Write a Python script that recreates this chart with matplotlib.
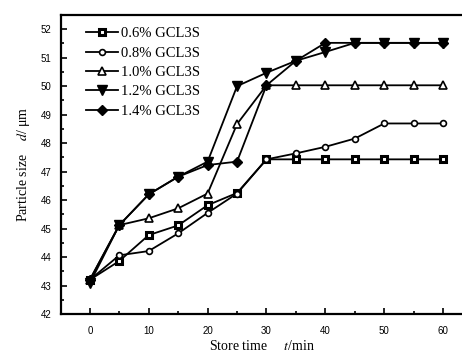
import matplotlib.pyplot as plt
from matplotlib.ticker import MultipleLocator

plt.rcParams['mathtext.fontset'] = 'stix'

times = [0, 5, 10, 15, 20, 25, 30, 35, 40, 45, 50, 55, 60]
labels = ["0.6% GCL3S", "0.8% GCL3S", "1.0% GCL3S", "1.2% GCL3S", "1.4% GCL3S"]
size_06 = [43.2, 43.86, 44.77, 45.11, 45.82, 46.25, 47.43, 47.43, 47.43, 47.43, 47.43, 47.43, 47.43]
size_08 = [43.2, 44.06, 44.21, 44.83, 45.55, 46.23, 47.43, 47.64, 47.87, 48.16, 48.69, 48.69, 48.69]
size_10 = [43.2, 45.12, 45.36, 45.71, 46.23, 48.67, 50.03, 50.03, 50.03, 50.03, 50.03, 50.03, 50.03]
size_12 = [43.08, 45.12, 46.2, 46.82, 47.35, 50.0, 50.47, 50.89, 51.2, 51.52, 51.52, 51.52, 51.52]
size_14 = [43.2, 45.12, 46.2, 46.82, 47.23, 47.35, 50.03, 50.89, 51.52, 51.52, 51.52, 51.52, 51.52]

series = [size_06, size_08, size_10, size_12, size_14]
styles = [
    dict(marker="s", ms=4.5, mfc="white", mew=2.2),
    dict(marker="o", ms=4.2, mfc="white", mew=1.2),
    dict(marker="^", ms=5.5, mfc="white", mew=1.2),
    dict(marker="v", ms=6.5, mfc="black", mew=1.0),
    dict(marker="D", ms=5.5, mfc="black", mew=1.0),
]

fig = plt.figure(figsize=(4.62, 3.56), dpi=100)
ax = fig.add_axes([0.132, 0.118, 0.868, 0.84])

for vals, lab, st in zip(series, labels, styles):
    ax.plot(times, vals, color="black", lw=1.3, mec="black", label=lab, **st)

ax.set_xlim(-4.9, 63.2)
ax.set_ylim(42, 52.5)
ax.xaxis.set_major_locator(MultipleLocator(10))
ax.xaxis.set_minor_locator(MultipleLocator(5))
ax.yaxis.set_major_locator(MultipleLocator(1))
ax.yaxis.set_minor_locator(MultipleLocator(0.5))
ax.tick_params(which="both", direction="in", width=1.2, labelsize=7)
ax.tick_params(which="major", length=4)
ax.tick_params(which="minor", length=2.5)
ax.tick_params(axis="x", pad=9)
ax.tick_params(axis="y", pad=7)
for t in ax.get_xticklabels() + ax.get_yticklabels():
    t.set_family("Liberation Sans")

for s in ["left", "bottom", "top"]:
    ax.spines[s].set_linewidth(1.6)
ax.spines["right"].set_visible(False)

ax.set_xlabel("Store time     $t$/min", family="Liberation Serif", fontsize=10, labelpad=2)
ax.set_ylabel("Particle size    $d$/ μm", family="Liberation Serif", fontsize=10, labelpad=6)

leg = ax.legend(loc="upper left", bbox_to_anchor=(0.043, 0.986), frameon=False,
                handlelength=2.2, handletextpad=0.15, labelspacing=0.42,
                borderaxespad=0.15,
                prop={"family": "Liberation Serif", "size": 10.5})

fig.savefig("out.png", dpi=100)
